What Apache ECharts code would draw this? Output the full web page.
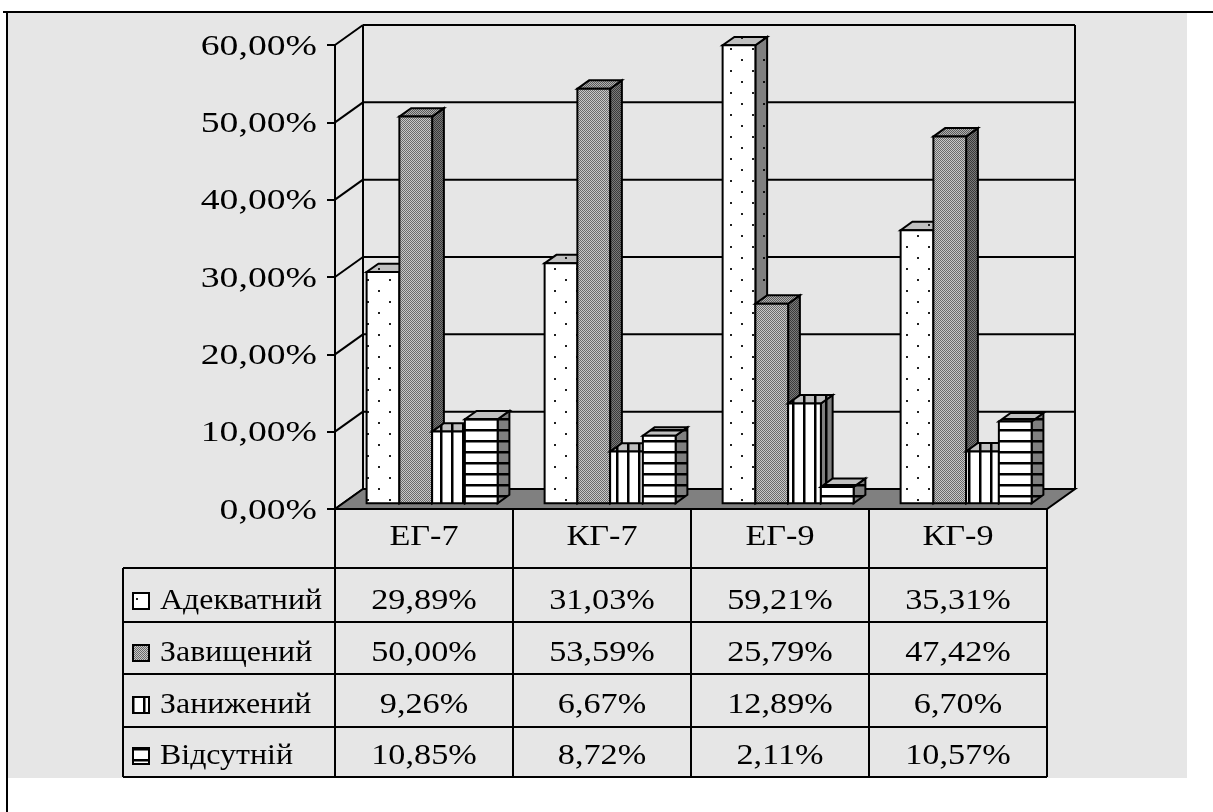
<!DOCTYPE html>
<html>
<head>
<meta charset="utf-8">
<script src="https://cdn.jsdelivr.net/npm/echarts@6/dist/echarts.min.js"></script>
<style>
  html, body { margin: 0; padding: 0; background: #ffffff; }
  #chart { width: 1213px; height: 812px; }
</style>
</head>
<body>
<div id="chart"></div>
<script>
// ---- data ----
const categories = ['ЕГ-7', 'КГ-7', 'ЕГ-9', 'КГ-9'];
const seriesNames = ['Адекватний', 'Завищений', 'Занижений', 'Відсутній'];
const adequate   = [29.89, 31.03, 59.21, 35.31];
const overrated  = [50.00, 53.59, 25.79, 47.42];
const underrated = [9.26, 6.67, 12.89, 6.70];
const absent     = [10.85, 8.72, 2.11, 10.57];
const yTicks = [0, 10, 20, 30, 40, 50, 60];
const seriesValues = [adequate, overrated, underrated, absent];

// ---- layout ----
const FONT = "'Liberation Serif', 'Times New Roman', serif";
const FS = 29;
const SCALE_Y_LABEL = 1.3, SCALE_NUM = 1.18, SCALE_CAT = 1.18, SCALE_NAME = 1.1;
const GRID = { left: 335, top: 45, right: 166, bottom: 303 };
const WALL_DX = 28, WALL_DY = -20;        // depth of the floor / walls
const BAR_FRONT = 0.29, BAR_BACK = 0.71;  // bar depth inside the floor
const BAR_RATIO = 0.184;                  // bar width as share of category band
const TABLE_LEFT = 123;
const HEADER_TEXT = 537;
const ROW_LINES = [568, 622, 674, 727, 777];   // table row boundaries (header is above 568)
const ROW_TEXT = [601, 653, 705, 756];

function fmtPct(v) { return v.toFixed(2).replace('.', ',') + '%'; }

// ---- fill patterns ----
function makePattern(w, h, draw) {
  const c = document.createElement('canvas');
  c.width = w; c.height = h;
  const ctx = c.getContext('2d');
  draw(ctx, w, h);
  return { image: c, repeat: 'repeat' };
}
function dotPattern(bg, dot) {
  return makePattern(22, 22, (ctx, w, h) => {
    ctx.fillStyle = bg; ctx.fillRect(0, 0, w, h);
    ctx.fillStyle = dot;
    ctx.fillRect(4, 4, 2, 2);
    ctx.fillRect(15, 15, 2, 2);
  });
}
function checkerPattern(a, b) {
  return makePattern(2, 2, (ctx) => {
    ctx.fillStyle = a; ctx.fillRect(0, 0, 2, 2);
    ctx.fillStyle = b; ctx.fillRect(0, 0, 1, 1); ctx.fillRect(1, 1, 1, 1);
  });
}
function vStripePattern(bg, line, soft) {
  return makePattern(11, 4, (ctx, w, h) => {
    ctx.fillStyle = bg; ctx.fillRect(0, 0, w, h);
    ctx.fillStyle = line; ctx.fillRect(0, 0, 2, h);
    ctx.fillStyle = soft; ctx.fillRect(2, 0, 1, h);
  });
}
function hStripePattern(bg, line, soft) {
  return makePattern(4, 11, (ctx, w, h) => {
    ctx.fillStyle = bg; ctx.fillRect(0, 0, w, h);
    ctx.fillStyle = line; ctx.fillRect(0, 0, w, 2);
    ctx.fillStyle = soft; ctx.fillRect(0, 2, w, 1);
  });
}

// front / top / side fills for each series
const faceFills = [
  { front: dotPattern('#ffffff', '#202020'), top: dotPattern('#c0c0c0', '#202020'), side: dotPattern('#808080', '#101010') },
  { front: checkerPattern('#c8c8c8', '#6a6a6a'), top: checkerPattern('#b0b0b0', '#5a5a5a'), side: checkerPattern('#7a7a7a', '#3a3a3a') },
  { front: vStripePattern('#ffffff', '#000000', '#808080'), top: vStripePattern('#c0c0c0', '#000000', '#606060'), side: vStripePattern('#808080', '#000000', '#404040') },
  { front: hStripePattern('#ffffff', '#000000', '#808080'), top: hStripePattern('#c0c0c0', '#000000', '#606060'), side: hStripePattern('#808080', '#000000', '#404040') }
];

const EDGE = { stroke: '#000', lineWidth: 2, lineJoin: 'miter' };

// text element stretched horizontally around its anchor point
function wideText(text, x, y, align, scaleX) {
  return {
    type: 'text', x: x, y: y, scaleX: scaleX,
    style: { text: text, x: 0, y: 0, align: align, verticalAlign: 'middle', font: FS + 'px ' + FONT, fill: '#000' }
  };
}

// ---- 3D bar drawing ----
function barRenderer(idx) {
  return function (params, api) {
    const cat = api.value(0), val = api.value(1);
    const base = api.coord([cat, 0]);
    const top = api.coord([cat, val]);
    const bw = api.size([1, 0])[0] * BAR_RATIO;
    const fdx = WALL_DX * BAR_FRONT, fdy = WALL_DY * BAR_FRONT;
    const ddx = WALL_DX * (BAR_BACK - BAR_FRONT), ddy = WALL_DY * (BAR_BACK - BAR_FRONT);
    const L = base[0] - 2 * bw + idx * bw + fdx;
    const R = L + bw;
    const T = top[1] + fdy, B = base[1] + fdy;
    const f = faceFills[idx];
    return {
      type: 'group',
      children: [
        { type: 'polygon', shape: { points: [[R, T], [R + ddx, T + ddy], [R + ddx, B + ddy], [R, B]] },
          style: Object.assign({ fill: f.side }, EDGE) },
        { type: 'polygon', shape: { points: [[L, T], [R, T], [R + ddx, T + ddy], [L + ddx, T + ddy]] },
          style: Object.assign({ fill: f.top }, EDGE) },
        { type: 'rect', shape: { x: L, y: T, width: bw, height: B - T },
          style: Object.assign({ fill: f.front }, EDGE) }
      ]
    };
  };
}

// ---- walls: side-wall diagonals, back-wall gridlines, value labels ----
function wallRenderer(params, api) {
  const cs = params.coordSys;
  const v = api.value(1);
  const y = api.coord([0, v])[1];
  const x0 = cs.x, x1 = cs.x + cs.width;
  return {
    type: 'group',
    children: [
      { type: 'line', shape: { x1: x0, y1: y, x2: x0 + WALL_DX, y2: y + WALL_DY }, style: EDGE },
      { type: 'line', shape: { x1: x0 + WALL_DX, y1: y + WALL_DY, x2: x1 + WALL_DX, y2: y + WALL_DY }, style: EDGE },
      wideText(fmtPct(v), x0 - 18, y + 2, 'right', SCALE_Y_LABEL)
    ]
  };
}

// ---- floor and back-wall frame ----
function floorRenderer(params, api) {
  const cs = params.coordSys;
  const x0 = cs.x, x1 = cs.x + cs.width;
  const yb = cs.y + cs.height, yt = cs.y;
  return {
    type: 'group',
    children: [
      { type: 'polygon', shape: { points: [[x0, yb], [x1, yb], [x1 + WALL_DX, yb + WALL_DY], [x0 + WALL_DX, yb + WALL_DY]] },
        style: Object.assign({ fill: '#808080' }, EDGE) },
      { type: 'line', shape: { x1: x0 + WALL_DX, y1: yt + WALL_DY, x2: x0 + WALL_DX, y2: yb + WALL_DY }, style: EDGE },
      { type: 'line', shape: { x1: x1 + WALL_DX, y1: yt + WALL_DY, x2: x1 + WALL_DX, y2: yb + WALL_DY }, style: EDGE }
    ]
  };
}

// ---- data table columns ----
function tableRenderer(params, api) {
  const cat = api.value(0);
  const c = api.coord([cat, 0]);
  const bandW = api.size([1, 0])[0];
  const xl = c[0] - bandW / 2, xr = c[0] + bandW / 2;
  const yTop = c[1];
  const kids = [
    { type: 'line', shape: { x1: xl, y1: yTop, x2: xl, y2: ROW_LINES[4] }, style: EDGE },
    { type: 'line', shape: { x1: xr, y1: yTop, x2: xr, y2: ROW_LINES[4] }, style: EDGE },
    wideText(categories[cat], c[0], HEADER_TEXT, 'center', SCALE_CAT)
  ];
  ROW_LINES.forEach(y => kids.push({ type: 'line', shape: { x1: xl, y1: y, x2: xr, y2: y }, style: EDGE }));
  for (let r = 0; r < 4; r++) {
    kids.push(wideText(fmtPct(api.value(r + 1)), c[0], ROW_TEXT[r], 'center', SCALE_NUM));
  }
  return { type: 'group', children: kids };
}

// ---- legend column of the table ----
const legendGraphics = [];
legendGraphics.push({ type: 'line', shape: { x1: TABLE_LEFT, y1: ROW_LINES[0], x2: TABLE_LEFT, y2: ROW_LINES[4] }, style: EDGE, z: 50 });
ROW_LINES.forEach(y => legendGraphics.push({ type: 'line', shape: { x1: TABLE_LEFT, y1: y, x2: GRID.left, y2: y }, style: EDGE, z: 50 }));
seriesNames.forEach((name, i) => {
  legendGraphics.push({ type: 'rect', shape: { x: 133, y: ROW_TEXT[i] - 8, width: 16, height: 16 },
    style: { fill: faceFills[i].front, stroke: '#000', lineWidth: 2 }, z: 50 });
  const t = wideText(name, 160, ROW_TEXT[i], 'left', SCALE_NAME);
  t.z = 50;
  legendGraphics.push(t);
});

const chart = echarts.init(document.getElementById('chart'), null, { renderer: 'canvas' });

const series = [
  { type: 'custom', name: 'walls', renderItem: wallRenderer, data: yTicks.map(t => [0, t]), z: 1, silent: true, clip: false },
  { type: 'custom', name: 'floor', renderItem: floorRenderer, data: [[0, 0]], z: 2, silent: true, clip: false }
];
seriesValues.forEach((vals, i) => {
  series.push({
    type: 'custom', name: seriesNames[i], renderItem: barRenderer(i),
    data: vals.map((v, k) => [k, v]), z: 3, silent: true, clip: false
  });
});
series.push({
  type: 'custom', name: 'table', renderItem: tableRenderer,
  data: categories.map((c, k) => [k, adequate[k], overrated[k], underrated[k], absent[k]]),
  z: 4, silent: true, clip: false
});

chart.setOption({
  animation: false,
  backgroundColor: '#ffffff',
  grid: GRID,
  xAxis: {
    type: 'category', data: categories, boundaryGap: true,
    axisLine: { show: false }, axisTick: { show: false }, splitLine: { show: false },
    axisLabel: { show: false }
  },
  yAxis: {
    type: 'value', min: 0, max: 60, interval: 10,
    axisLine: { show: true, lineStyle: { color: '#000', width: 2 } },
    axisTick: { show: true, length: 8, lineStyle: { color: '#000', width: 2 } },
    splitLine: { show: false },
    axisLabel: { show: false }
  },
  graphic: [
    { type: 'rect', shape: { x: 8, y: 13, width: 1179, height: 765 }, style: { fill: '#e6e6e6' }, z: -10, silent: true },
    { type: 'line', shape: { x1: 3, y1: 12, x2: 1213, y2: 12 }, style: { stroke: '#000', lineWidth: 2 }, z: -5 },
    { type: 'line', shape: { x1: 7, y1: 12, x2: 7, y2: 812 }, style: { stroke: '#000', lineWidth: 2 }, z: -5 }
  ].concat(legendGraphics),
  series: series
});
</script>
</body>
</html>
